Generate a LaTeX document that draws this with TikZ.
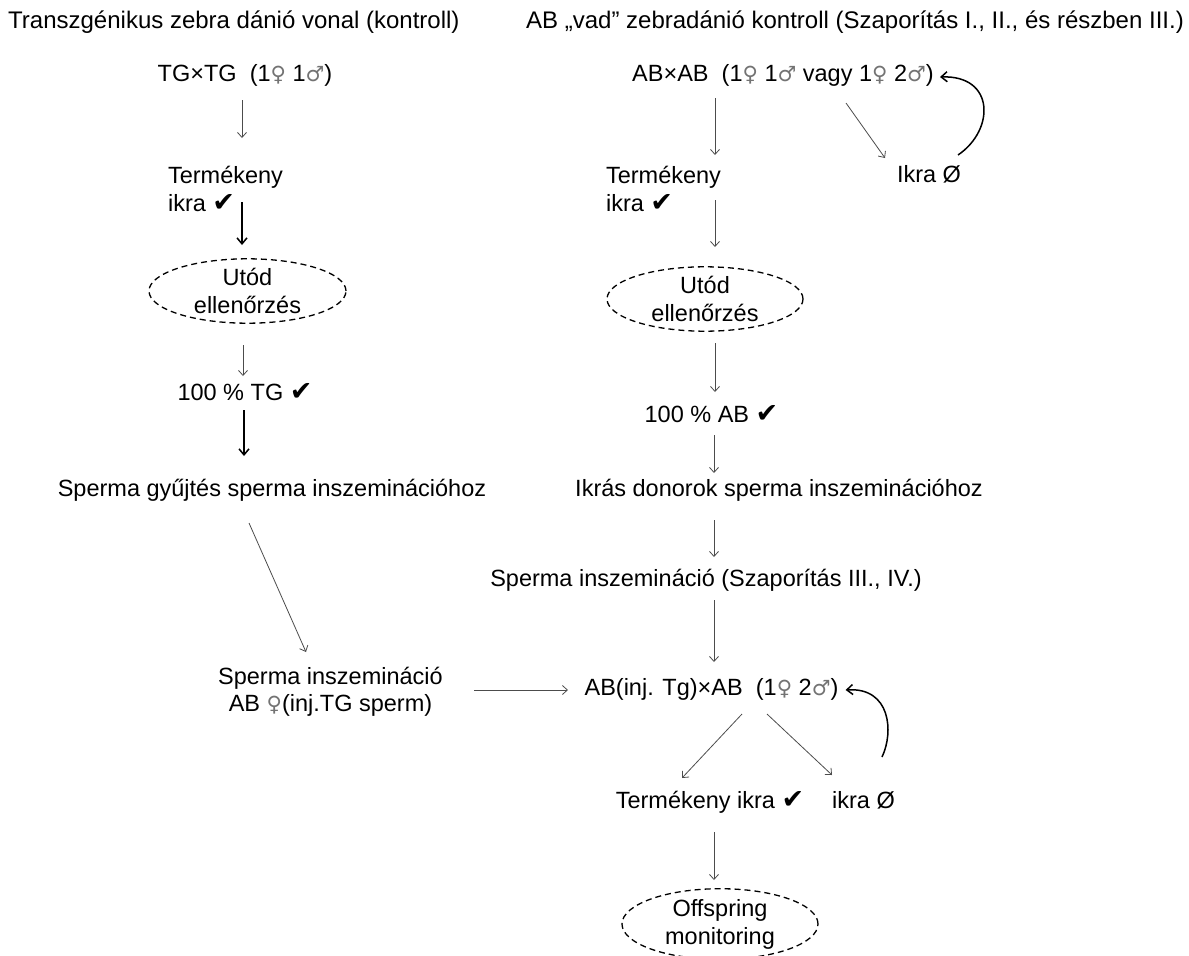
\documentclass[tikz,border=0pt]{standalone}
\usepackage{fontspec}
\setmainfont{Liberation Sans}
\newfontfamily\symf{DejaVu Sans}
\usetikzlibrary{calc,shapes.geometric,arrows.meta}
\newcommand{\chk}{{\symf\fontsize{27}{27}\selectfont ✔}}
\newcommand{\fem}{{\symf\color{black!55}\fontsize{21}{21}\selectfont ♀}}
\newcommand{\mal}{{\symf\color{black!55}\fontsize{21}{21}\selectfont ♂}}
\tikzset{
  txt/.style={inner sep=0pt, font=\fontsize{23.5}{28}\selectfont},
  ttl/.style={inner sep=0pt, font=\fontsize{24}{28}\selectfont},
  fixh/.style={text height=18pt, text depth=5pt},
  oval/.style={txt, ellipse, draw, dashed, line width=1.3pt, dash pattern=on 6pt off 4pt, align=center, inner sep=0pt},
  thn/.style={draw=black!70, line width=0.8pt, -{Straight Barb[length=5pt,width=9pt]}},
  thk/.style={draw=black, line width=1.5pt, -{Straight Barb[length=6pt,width=10pt]}}
}
\begin{document}
\begin{tikzpicture}[x=1pt,y=-1pt]
\useasboundingbox (0,0) rectangle (1189,956);
% nodes
\node[ttl, anchor=west] (ltitle) at (8,22) {Transzgénikus zebra dánió vonal (kontroll)};
\node[ttl, anchor=east] (rtitle) at (1184,22) {AB „vad” zebradánió kontroll (Szaporítás I., II., és részben III.)};
\node[txt] (tgtg) at (245,75) {TG×TG\ \ (1\fem\ 1\mal)};
\node[txt, align=left] (term1) at (225.5,189) {Termékeny\\ikra \chk};
\node[oval, minimum width=197pt, minimum height=63pt] (utod1) at (247.5,291) {Utód\\ellenőrzés};
\node[txt] (tg100) at (245,392) {100 \% TG \chk};
\node[txt] (gyujt) at (272,490) {Sperma gyűjtés sperma inszeminációhoz};
\node[txt, align=center, font=\fontsize{23.5}{27}\selectfont] (insem1) at (330.5,692) {Sperma inszemináció\\AB \fem(inj.TG sperm)};
\node[txt] (abab) at (783,75) {AB×AB\ \ (1\fem\ 1\mal\ vagy 1\fem\ 2\mal)};
\node[txt, align=left] (term2) at (663.5,189) {Termékeny\\ikra \chk};
\node[txt] (ikra0a) at (929,174) {Ikra Ø};
\node[oval, minimum width=196pt, minimum height=63pt] (utod2) at (705,299) {Utód\\ellenőrzés};
\node[txt] (ab100) at (711.5,414) {100 \% AB \chk};
\node[txt] (donor) at (779,490) {Ikrás donorok sperma inszeminációhoz};
\node[txt] (insem2) at (706,580) {Sperma inszemináció (Szaporítás III., IV.)};
\node[txt] (abinj) at (711.5,689) {AB(inj. Tg)×AB\ \ (1\fem\ 2\mal)};
\node[txt, fixh] (termf) at (710,802) {Termékeny ikra \chk};
\node[txt, fixh] (ikra0b) at (863.5,802) {ikra Ø};
\node[oval, minimum width=196pt, minimum height=62pt] (offs) at (720,924) {Offspring\\monitoring};
% connectors left
\draw[thn] ($(tgtg)+(-3,25)$) -- ($(term1)+(16.5,-51)$);
\draw[thk] ($(term1)+(16.5,13)$) -- ($(utod1)+(-5.5,-46)$);
\draw[thn] ($(utod1)+(-4.5,54)$) -- ($(tg100)+(-2,-16)$);
\draw[thk] ($(tg100)+(-1,18)$) -- ($(gyujt)+(-28,-34)$);
\draw[thn] ($(gyujt)+(-23,33)$) -- ($(insem1)+(-24.5,-40)$);
\draw[thn] ($(insem1)+(143.5,-2)$) -- ($(abinj)+(-143.5,1)$);
% connectors right
\draw[thn] ($(abab)+(-68,23)$) -- ($(term2)+(51.5,-34)$);
\draw[thn] ($(abab)+(63,28)$) -- ($(ikra0a)+(-44,-16)$);
\draw[thk] ($(ikra0a)+(29,-19)$) .. controls +(37,-25) and +(55,-2) .. ($(abab.east)+(6,2)$);
\draw[thn] ($(term2)+(51.5,11)$) -- ($(utod2)+(10,-52)$);
\draw[thn] ($(utod2)+(10,44)$) -- ($(ab100)+(3.5,-22)$);
\draw[thn] ($(ab100)+(2.5,21)$) -- ($(donor)+(-65,-17)$);
\draw[thn] ($(donor)+(-65,30)$) -- ($(insem2)+(8,-23)$);
\draw[thn] ($(insem2)+(8,20)$) -- ($(abinj)+(2.5,-27)$);
\draw[thn] ($(abinj)+(30.5,25)$) -- ($(termf)+(-28,-24)$);
\draw[thn] ($(abinj)+(55.5,25)$) -- ($(ikra0b)+(-31.5,-27)$);
\draw[thk] ($(ikra0b)+(18.5,-45)$) .. controls +(12,-25) and +(45,-3) .. ($(abinj.east)+(7,1)$);
\draw[thn] ($(termf)+(4,30)$) -- ($(offs)+(-6,-44)$);
\end{tikzpicture}
\end{document}
